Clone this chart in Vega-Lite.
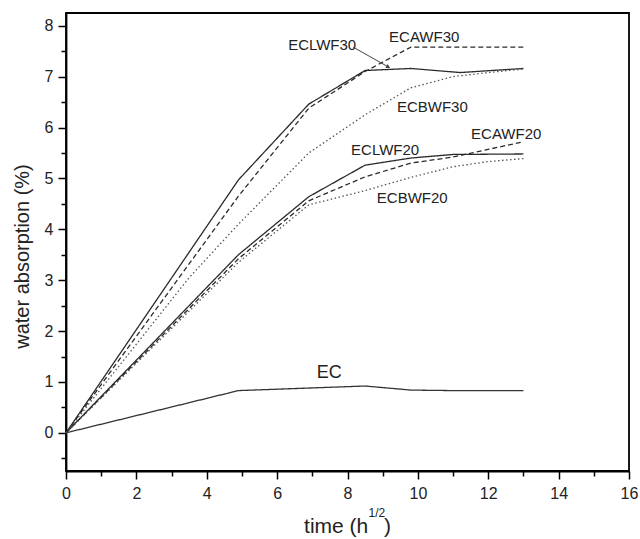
{
  "$schema": "https://vega.github.io/schema/vega-lite/v6.json",
  "width": 563,
  "height": 458,
  "autosize": "none",
  "padding": {"left": 66, "top": 13, "right": 11, "bottom": 68},
  "background": "white",
  "config": {
    "view": {"stroke": "#000", "strokeWidth": 1.8},
    "axis": {
      "grid": false,
      "domainColor": "#000",
      "domainWidth": 1.8,
      "tickColor": "#000",
      "tickWidth": 1.5,
      "labelFont": "Liberation Sans",
      "labelFontSize": 16,
      "labelColor": "#222",
      "titleFont": "Liberation Sans",
      "titleFontSize": 20,
      "titleFontWeight": "normal",
      "titleColor": "#222"
    },
    "text": {"font": "Liberation Sans", "color": "#222"}
  },
  "datasets": {
    "curves": [
      {"series": "EC", "t": 0, "w": 0},
      {"series": "EC", "t": 4.9, "w": 0.83},
      {"series": "EC", "t": 6.9, "w": 0.88},
      {"series": "EC", "t": 8.5, "w": 0.92},
      {"series": "EC", "t": 9.8, "w": 0.84},
      {"series": "EC", "t": 11, "w": 0.83},
      {"series": "EC", "t": 12, "w": 0.83},
      {"series": "EC", "t": 13, "w": 0.83},
      {"series": "ECLWF30", "t": 0, "w": 0},
      {"series": "ECLWF30", "t": 4.9, "w": 4.97},
      {"series": "ECLWF30", "t": 6.9, "w": 6.46},
      {"series": "ECLWF30", "t": 8.5, "w": 7.12},
      {"series": "ECLWF30", "t": 9.8, "w": 7.16},
      {"series": "ECLWF30", "t": 11.2, "w": 7.08},
      {"series": "ECLWF30", "t": 13, "w": 7.16},
      {"series": "ECAWF30", "t": 0, "w": 0},
      {"series": "ECAWF30", "t": 4.9, "w": 4.65},
      {"series": "ECAWF30", "t": 6.9, "w": 6.38},
      {"series": "ECAWF30", "t": 8.5, "w": 7.1},
      {"series": "ECAWF30", "t": 9.8, "w": 7.58},
      {"series": "ECAWF30", "t": 13, "w": 7.58},
      {"series": "ECBWF30", "t": 0, "w": 0},
      {"series": "ECBWF30", "t": 3.5, "w": 3.05},
      {"series": "ECBWF30", "t": 4.9, "w": 4.1},
      {"series": "ECBWF30", "t": 6.9, "w": 5.5},
      {"series": "ECBWF30", "t": 8.5, "w": 6.25},
      {"series": "ECBWF30", "t": 9.8, "w": 6.78},
      {"series": "ECBWF30", "t": 11, "w": 7.0},
      {"series": "ECBWF30", "t": 12, "w": 7.08},
      {"series": "ECBWF30", "t": 13, "w": 7.15},
      {"series": "ECLWF20", "t": 0, "w": 0},
      {"series": "ECLWF20", "t": 4.9, "w": 3.5},
      {"series": "ECLWF20", "t": 6.9, "w": 4.64},
      {"series": "ECLWF20", "t": 8.5, "w": 5.26},
      {"series": "ECLWF20", "t": 9.8, "w": 5.4},
      {"series": "ECLWF20", "t": 11, "w": 5.47},
      {"series": "ECLWF20", "t": 13, "w": 5.48},
      {"series": "ECAWF20", "t": 0, "w": 0},
      {"series": "ECAWF20", "t": 4.9, "w": 3.42},
      {"series": "ECAWF20", "t": 6.9, "w": 4.56},
      {"series": "ECAWF20", "t": 8.5, "w": 5.03},
      {"series": "ECAWF20", "t": 9.8, "w": 5.3},
      {"series": "ECAWF20", "t": 11, "w": 5.42},
      {"series": "ECAWF20", "t": 13, "w": 5.72},
      {"series": "ECBWF20", "t": 0, "w": 0},
      {"series": "ECBWF20", "t": 4.9, "w": 3.35},
      {"series": "ECBWF20", "t": 6.9, "w": 4.48},
      {"series": "ECBWF20", "t": 8.5, "w": 4.76},
      {"series": "ECBWF20", "t": 9.8, "w": 5.02},
      {"series": "ECBWF20", "t": 11, "w": 5.23},
      {"series": "ECBWF20", "t": 12, "w": 5.33},
      {"series": "ECBWF20", "t": 13, "w": 5.39}
    ],
    "labels": [
      {"label": "ECLWF30", "t": 7.28, "w": 7.62},
      {"label": "ECAWF30", "t": 10.18, "w": 7.77},
      {"label": "ECBWF30", "t": 10.41, "w": 6.4},
      {"label": "ECAWF20", "t": 12.51, "w": 5.87},
      {"label": "ECLWF20", "t": 9.07, "w": 5.55},
      {"label": "ECBWF20", "t": 9.84, "w": 4.61}
    ],
    "ec": [
      {"label": "EC", "t": 7.48, "w": 1.17}
    ],
    "arrow": [
      {"t": 8.16, "w": 7.58, "t2": 9.16, "w2": 7.19}
    ],
    "xtitle": [
      {"part": "main", "txt": "time (h", "t": 8.59, "w": -1.97},
      {"part": "sup", "txt": "1/2", "t": 8.6, "w": -1.66},
      {"part": "close", "txt": ")", "t": 9.04, "w": -1.97}
    ]
  },
  "layer": [
    {
      "data": {"name": "curves"},
      "mark": {"type": "line", "strokeWidth": 1.3},
      "encoding": {
        "x": {
          "field": "t", "type": "quantitative",
          "scale": {"domain": [0, 16], "nice": false, "zero": false},
          "axis": {
            "values": [0, 2, 4, 6, 8, 10, 12, 14, 16],
            "tickSize": 8, "labelPadding": 6, "orient": "bottom",
            "title": null, "labelFlush": false
          }
        },
        "y": {
          "field": "w", "type": "quantitative",
          "scale": {"domain": [-0.75, 8.25], "nice": false, "zero": false},
          "axis": {
            "values": [0, 1, 2, 3, 4, 5, 6, 7, 8],
            "tickSize": 8, "labelPadding": 5, "orient": "left",
            "title": "water absorption (%)", "titlePadding": 12, "titleY": 243, "labelFlush": false
          }
        },
        "detail": {"field": "series"},
        "strokeDash": {
          "field": "series", "type": "nominal",
          "scale": {
            "domain": ["EC", "ECLWF30", "ECAWF30", "ECBWF30", "ECLWF20", "ECAWF20", "ECBWF20"],
            "range": [[1, 0], [1, 0], [5, 3], [1.5, 2.5], [1, 0], [5, 3], [1.5, 2.5]]
          },
          "legend": null
        },
        "color": {
          "field": "series", "type": "nominal",
          "scale": {
            "domain": ["EC", "ECLWF30", "ECAWF30", "ECBWF30", "ECLWF20", "ECAWF20", "ECBWF20"],
            "range": ["#333333", "#2a2a2a", "#2a2a2a", "#555555", "#2a2a2a", "#2a2a2a", "#555555"]
          },
          "legend": null
        }
      }
    },
    {
      "data": {"name": "labels"},
      "mark": {"type": "text", "fontSize": 15, "align": "center", "baseline": "middle"},
      "encoding": {
        "x": {
          "field": "t", "type": "quantitative",
          "scale": {"domain": [0, 16], "nice": false, "zero": false},
          "axis": {
            "values": [1, 3, 5, 7, 9, 11, 13, 15],
            "tickSize": 5, "labels": false, "domain": false, "title": null, "orient": "bottom"
          }
        },
        "y": {
          "field": "w", "type": "quantitative",
          "scale": {"domain": [-0.75, 8.25], "nice": false, "zero": false},
          "axis": {
            "values": [-0.5, 0.5, 1.5, 2.5, 3.5, 4.5, 5.5, 6.5, 7.5],
            "tickSize": 5, "labels": false, "domain": false, "title": null, "orient": "left"
          }
        },
        "text": {"field": "label"}
      }
    },
    {
      "data": {"name": "ec"},
      "mark": {"type": "text", "fontSize": 18, "align": "center", "baseline": "middle"},
      "encoding": {
        "x": {"field": "t", "type": "quantitative", "axis": null},
        "y": {"field": "w", "type": "quantitative", "axis": null},
        "text": {"field": "label"}
      }
    },
    {
      "data": {"name": "arrow"},
      "mark": {"type": "rule", "color": "#444", "strokeWidth": 1},
      "encoding": {
        "x": {"field": "t", "type": "quantitative", "axis": null},
        "y": {"field": "w", "type": "quantitative", "axis": null},
        "x2": {"field": "t2"},
        "y2": {"field": "w2"}
      }
    },
    {
      "data": {"name": "arrow"},
      "mark": {"type": "point", "shape": "triangle-right", "filled": true, "size": 22, "angle": 29.5, "color": "#444", "opacity": 1},
      "encoding": {
        "x": {"field": "t2", "type": "quantitative", "axis": null},
        "y": {"field": "w2", "type": "quantitative", "axis": null}
      }
    },
    {
      "data": {"name": "xtitle"},
      "transform": [{"filter": "datum.part === 'main'"}],
      "mark": {"type": "text", "fontSize": 21, "align": "right", "baseline": "alphabetic"},
      "encoding": {
        "x": {"field": "t", "type": "quantitative", "axis": null},
        "y": {"field": "w", "type": "quantitative", "axis": null},
        "text": {"field": "txt"}
      }
    },
    {
      "data": {"name": "xtitle"},
      "transform": [{"filter": "datum.part === 'sup'"}],
      "mark": {"type": "text", "fontSize": 12, "align": "left", "baseline": "alphabetic"},
      "encoding": {
        "x": {"field": "t", "type": "quantitative", "axis": null},
        "y": {"field": "w", "type": "quantitative", "axis": null},
        "text": {"field": "txt"}
      }
    },
    {
      "data": {"name": "xtitle"},
      "transform": [{"filter": "datum.part === 'close'"}],
      "mark": {"type": "text", "fontSize": 21, "align": "left", "baseline": "alphabetic"},
      "encoding": {
        "x": {"field": "t", "type": "quantitative", "axis": null},
        "y": {"field": "w", "type": "quantitative", "axis": null},
        "text": {"field": "txt"}
      }
    }
  ],
  "resolve": {"axis": {"x": "independent", "y": "independent"}}
}
